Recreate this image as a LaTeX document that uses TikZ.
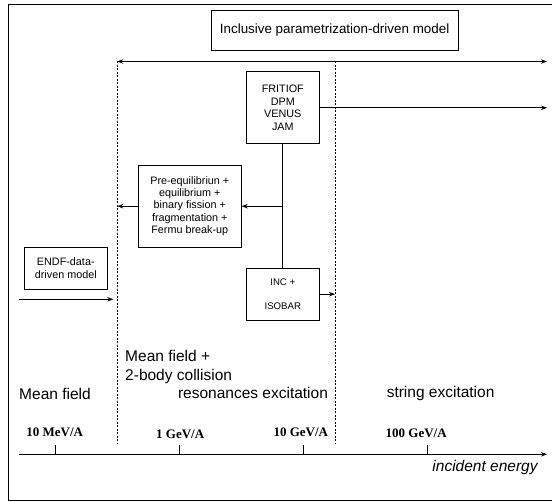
\documentclass[tikz,border=0pt]{standalone}
\usepackage{fontspec}
\setmainfont{Liberation Sans}
\newfontfamily\energyfont{Liberation Serif}
\usetikzlibrary{arrows.meta}

\begin{document}
\begin{tikzpicture}[x=1pt,y=-1pt,line width=0.8pt,
  model/.style={draw,align=center,inner sep=0pt,font=\fontsize{10.8}{12.4}\selectfont},
  regime/.style={font=\fontsize{15.5}{19.4}\selectfont},
  energy/.style={font=\energyfont\fontsize{13}{15}\selectfont\bfseries},
  boundary/.style={dash pattern=on 2pt off 1.5pt,line width=0.6pt},
  flow/.style={-{Stealth[length=6pt,width=4.5pt]}},
  span/.style={{Stealth[length=6pt,width=4.5pt]}-{Stealth[length=6pt,width=4.5pt]}}]
  \useasboundingbox (0,0) rectangle (552,502);
  \draw (552,4) -| (8.5,500) -- (552,500);
  \node[model,minimum width=247pt,minimum height=40.7pt,font=\fontsize{13.4}{16}\selectfont] (title) at (334.6,30.4) {Inclusive parametrization-driven model};
  \node[model,minimum width=72.3pt,minimum height=72pt] (fritiof) at (282.8,107.8) {FRITIOF\\DPM\\VENUS\\JAM};
  \node[model,minimum width=103pt,minimum height=82pt] (preeq) at (189.8,206.2) {Pre-equilibriun +\\equilibrium +\\binary fission +\\fragmentation +\\Fermu break-up};
  \node[model,minimum width=83pt,minimum height=41.7pt] (endf) at (65.8,268.2) {ENDF-data-\\driven model};
  \node[model,minimum width=72.3pt,minimum height=51.7pt,font=\fontsize{9.6}{12}\selectfont] (inc) at (282.8,294.2) {INC +\\[12pt]ISOBAR};
  \coordinate (lefttop) at (117.3,61.5);
  \coordinate (leftfoot) at (117.3,443.3);
  \coordinate (righttop) at (335,61.5);
  \coordinate (rightfoot) at (335,443.3);
  \coordinate (farend) at (547,61.5);
  \coordinate (endfstart) at (19,299.3);
  \coordinate (endfend) at (113.3,299.3);
  \coordinate (axisstart) at (19,454.3);
  \coordinate (axisend) at (547,454.3);
  \draw[span] (lefttop) -- (farend);
  \draw[boundary] (lefttop) -- (leftfoot);
  \draw[boundary] (righttop) -- (rightfoot);
  \draw[flow] (fritiof.east) -- (fritiof.east -| farend);
  \draw (fritiof) -- (inc);
  \coordinate (branch) at (fritiof.south |- preeq.east);
  \draw[flow] (branch) -- (preeq.east);
  \draw[flow] (preeq.west) -- (preeq.west -| lefttop);
  \draw[flow] (endfstart) -- (endfend);
  \draw[flow] (inc.east) -- (inc.east -| righttop);
  \node[regime,align=left,anchor=west] (meancoll) at (121.5,367) {Mean field +\\2-body collision};
  \node[regime] (resonance) at (253,392.7) {resonances excitation};
  \node[regime] (meanfield) at (55,393.5) {Mean field};
  \node[regime] (stringexc) at (440.6,393.3) {string excitation};
  \draw[flow] (axisstart) -- (axisend);
  \foreach \x/\n in {55/1,179.3/2,303.3/3,427.3/4}
	{\coordinate (tick\n) at (\x,454.3);
	 \draw (tick\n) -- ++(0,-9.3);}
  \node[energy] (mev) at (54.7,432.3) {10 MeV/A};
  \node[energy] (gev) at (180.2,434) {1 GeV/A};
  \node[energy] (tengev) at (300.8,432.3) {10 GeV/A};
  \node[energy] (hundredgev) at (416.2,433) {100 GeV/A};
  \node[regime,font=\fontsize{15.5}{19}\selectfont\itshape] (incident) at (485,467.3) {incident energy};
\end{tikzpicture}
\end{document}
